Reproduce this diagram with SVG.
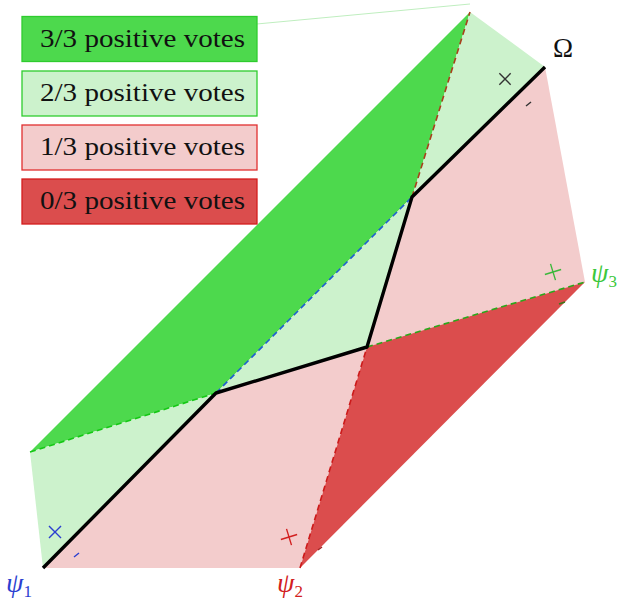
<svg xmlns="http://www.w3.org/2000/svg" width="623" height="603" viewBox="0 0 623 603">
<style>
.g3{fill:#4dd94d}
.g2{fill:#ccf2cc}
.r1{fill:#f3cccc}
.r0{fill:#db4d4d}
.lg3{fill:#4dd94d;stroke:#2ecc2e;stroke-width:1.3}
.lg2{fill:#ccf2cc;stroke:#2ecc2e;stroke-width:1.3}
.lr1{fill:#f3cccc;stroke:#e03030;stroke-width:1.3}
.lr0{fill:#db4d4d;stroke:#d41c1c;stroke-width:1.3}
.lt{font-family:"Liberation Serif","DejaVu Serif",serif;font-size:25px;fill:#111}
.dash{fill:none;stroke-width:1.6;stroke-dasharray:6 4}
.bd{fill:none;stroke:#000;stroke-width:3.4;stroke-linejoin:round}
.mk{fill:none;stroke-width:1.4}
.lab{font-family:"Liberation Serif","DejaVu Serif",serif;font-style:italic}
</style>
<line x1="22" y1="46" x2="470" y2="4" stroke="#bfeebf" stroke-width="1"/>
<g id="regions">
<polygon class="g3" points="30,452 470,12 412,197 216,393"/>
<polygon class="g2" points="30,452 216,393 43,568"/>
<polygon class="g2" points="216,393 412,197 367,347"/>
<polygon class="g2" points="470,12 545,67 412,197"/>
<polygon class="r1" points="43,568 216,393 367,347 300,568"/>
<polygon class="r1" points="367,347 412,197 545,67 585,282"/>
<polygon class="r0" points="367,347 585,282 300,568"/>
</g>
<g id="connectors">
<line class="dash" x1="30" y1="452" x2="216" y2="393" stroke="#14c814"/>
<line class="dash" x1="367" y1="347" x2="585" y2="282" stroke="#2aa81a"/>
<line class="dash" x1="216" y1="393" x2="412" y2="197" stroke="#1f5fd0"/>
<line class="dash" x1="300" y1="568" x2="367" y2="347" stroke="#cc1a1a"/>
<line class="dash" x1="412" y1="197" x2="470" y2="12" stroke="#a8401c"/>
<polyline class="bd" points="43,568 216,393 367,347 412,197 545,67"/>
</g>
<g id="markers">
<g transform="translate(505,79) rotate(45)" stroke="#333"><path class="mk" d="M-8,0H8M0,-8V8"/></g>
<path class="mk" d="M526,106L531,102" stroke="#333" stroke-width="1.7"/>
<g transform="translate(55,532) rotate(45)" stroke="#2b3fd0"><path class="mk" d="M-8.5,0H8.5M0,-8.5V8.5"/></g>
<path class="mk" d="M74,557L79,553" stroke="#2b3fd0" stroke-width="1.7"/>
<g transform="translate(289,537) rotate(-17)" stroke="#d22020"><path class="mk" d="M-8.5,0H8.5M0,-8.5V8.5"/></g>
<path class="mk" d="M318,550L322,547" stroke="#a02020" stroke-width="1.4"/>
<g transform="translate(553,272) rotate(-17)" stroke="#3cb83c"><path class="mk" d="M-8.5,0H8.5M0,-8.5V8.5"/></g>
<path class="mk" d="M559,304L565,302" stroke="#3a7a1a" stroke-width="1.7"/>
</g>
<g id="labels">
<text x="553" y="57" font-family="Liberation Serif,DejaVu Serif,serif" font-size="27" fill="#111">Ω</text>
<text class="lab" x="6" y="592" font-size="28" fill="#2b3fd0">ψ<tspan font-style="normal" font-size="17" dy="5">1</tspan></text>
<text class="lab" x="277" y="592" font-size="28" fill="#d22020">ψ<tspan font-style="normal" font-size="17" dy="5">2</tspan></text>
<text class="lab" x="591" y="282" font-size="28" fill="#3cc83c">ψ<tspan font-style="normal" font-size="17" dy="5">3</tspan></text>
</g>
<g id="legend-3">
<rect class="lg3" x="22" y="16.5" width="235" height="45"/>
<text class="lt" x="40" y="47" textLength="205" lengthAdjust="spacingAndGlyphs">3/3 positive votes</text>
</g>
<g id="legend-2">
<rect class="lg2" x="22" y="71" width="235" height="45"/>
<text class="lt" x="40" y="101" textLength="205" lengthAdjust="spacingAndGlyphs">2/3 positive votes</text>
</g>
<g id="legend-1">
<rect class="lr1" x="22" y="125" width="235" height="45"/>
<text class="lt" x="40" y="155" textLength="205" lengthAdjust="spacingAndGlyphs">1/3 positive votes</text>
</g>
<g id="legend-0">
<rect class="lr0" x="22" y="179" width="235" height="45"/>
<text class="lt" x="40" y="209" textLength="205" lengthAdjust="spacingAndGlyphs">0/3 positive votes</text>
</g>
</svg>
